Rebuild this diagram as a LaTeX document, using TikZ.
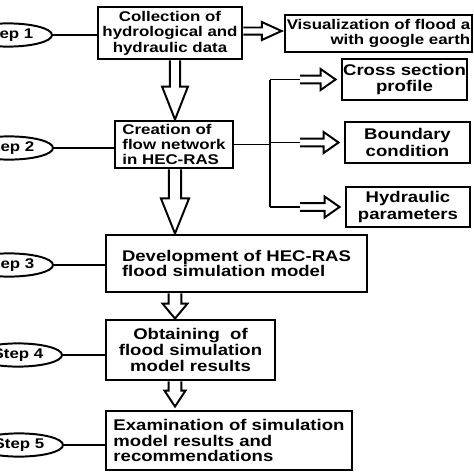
\documentclass[tikz,border=0pt]{standalone}
\usepackage{fontspec}
\setmainfont{Liberation Sans}[FakeStretch=1.2]
\usepackage{tikz}
\usetikzlibrary{calc,shapes.geometric}
\pgfdeclarelayer{edgelayer}
\pgfdeclarelayer{nodelayer}
\pgfsetlayers{edgelayer,nodelayer,main}
\tikzstyle{stepbox}=[ellipse,draw=black,line width=1.4pt,inner sep=0pt,minimum width=2.2cm,minimum height=0.58cm,font=\fontsize{10}{11}\selectfont\bfseries]
\tikzstyle{task}=[rectangle,draw=black,line width=2pt,inner sep=0pt,font=\fontsize{10}{11}\selectfont\bfseries]
\tikzstyle{bigtask}=[task,font=\fontsize{11}{11.2}\selectfont\bfseries]
\tikzstyle{side}=[rectangle,draw=black,line width=2pt,inner sep=0pt,align=center,font=\fontsize{11}{12}\selectfont\bfseries]
\tikzstyle{simple}=[-,draw=black,line width=1.4pt]
\tikzset{hollow/.style n args={3}{draw=black,line width=1.4pt,line join=miter,
  to path={let \p1=(\tikztostart), \p2=(\tikztotarget), \p3=($(\p2)!#1!(\p1)$) in
    ($(\p1)!#2!90:(\p2)$) -- ($(\p3)!#2!90:(\p2)$) -- ($(\p3)!#3!90:(\p2)$) -- (\p2)
    -- ($(\p3)!#3!-90:(\p2)$) -- ($(\p3)!#2!-90:(\p2)$) -- ($(\p1)!#2!-90:(\p2)$)}}}

\begin{document}
\begin{tikzpicture}[x=0.025cm,y=-0.025cm]
	\useasboundingbox (0,0) rectangle (474,474);
	\begin{pgfonlayer}{nodelayer}
		\node [style=task, minimum width=3.6cm, minimum height=1.3cm, align=center] (coll) at (170, 33) {Collection of\\hydrological and\\hydraulic data};
		\node [style=task, minimum width=4.675cm, minimum height=0.925cm, align=right] (vis) at (378.5, 33.5) {Visualization of flood a\\with google earth};
		\node [style=task, minimum width=2.95cm, minimum height=1.175cm, align=left] (crea) at (174, 144.5) {Creation of\\flow network\\in HEC-RAS};
		\node [style=side, minimum width=3.125cm, minimum height=1.025cm] (cross) at (404.5, 79.5) {Cross section\\profile};
		\node [style=side, minimum width=3.125cm, minimum height=1.025cm] (bound) at (407.5, 142.5) {Boundary\\condition};
		\node [style=side, minimum width=3.1cm, minimum height=1.0cm] (hyd) at (408, 207) {Hydraulic\\parameters};
		\node [style=bigtask, minimum width=6.525cm, minimum height=1.425cm, align=left] (dev) at (236.5, 263.5) {Development of HEC-RAS\\flood simulation model};
		\node [style=bigtask, minimum width=4.225cm, minimum height=1.5cm, align=center] (obt) at (190.5, 350) {Obtaining\ \ of\\flood simulation\\model results};
		\node [style=bigtask, minimum width=6.15cm, minimum height=1.475cm, align=left] (exam) at (229, 440.5) {Examination of simulation\\model results and\\recommendations};
		\node [style=stepbox] (s1) at (8, 35) {Step 1};
		\node [style=stepbox] (s2) at (9, 148) {Step 2};
		\node [style=stepbox] (s3) at (9, 265) {Step 3};
		\node [style=stepbox] (s4) at (18, 355) {Step 4};
		\node [style=stepbox] (s5) at (19, 445) {Step 5};
		\coordinate (spine) at (175, 0);
		\coordinate (split) at (270, 144.5);
	\end{pgfonlayer}
	\begin{pgfonlayer}{edgelayer}
		\fill [white] (0,0) rectangle (474,474);
		\draw [style=simple] (s1.east) -- (s1.east -| coll.west);
		\draw [style=simple] (s2.east) -- (s2.east -| crea.west);
		\draw [style=simple] (s3.east) -- (s3.east -| dev.west);
		\draw [style=simple] (s4.east) -- (s4.east -| obt.west);
		\draw [style=simple] (s5.east) -- (s5.east -| exam.west);
		\draw [hollow={23.5pt}{3.6pt}{9.2pt}] (spine |- coll.south) to (spine |- crea.north);
		\draw [hollow={25pt}{4.3pt}{10pt}] (spine |- crea.south) to (spine |- dev.north);
		\draw [hollow={10.7pt}{4.6pt}{8.9pt}] (spine |- dev.south) to (spine |- obt.north);
		\draw [hollow={11.4pt}{4.6pt}{7.5pt}] (spine |- obt.south) to ($(spine |- exam.north)+(0,-3)$);
		\draw [hollow={14pt}{2.5pt}{6.4pt}] ($(coll.east)+(0,-2)$) to ($(coll.east -| vis.west)+(-2,-2)$);
		\draw [style=simple] (crea.east) -- (split);
		\draw [style=simple] (split |- cross.west) -- (split |- hyd.west);
		\foreach \b in {cross,bound,hyd} {
			\draw [style=simple] (split |- \b.west) -- ++(30,0);
			\draw [hollow={10.7pt}{2.8pt}{7.5pt}] ($(split |- \b.west)+(30,0)$) to ($(\b.west)+(-5,0)$);
		}
	\end{pgfonlayer}
\end{tikzpicture}
\end{document}
